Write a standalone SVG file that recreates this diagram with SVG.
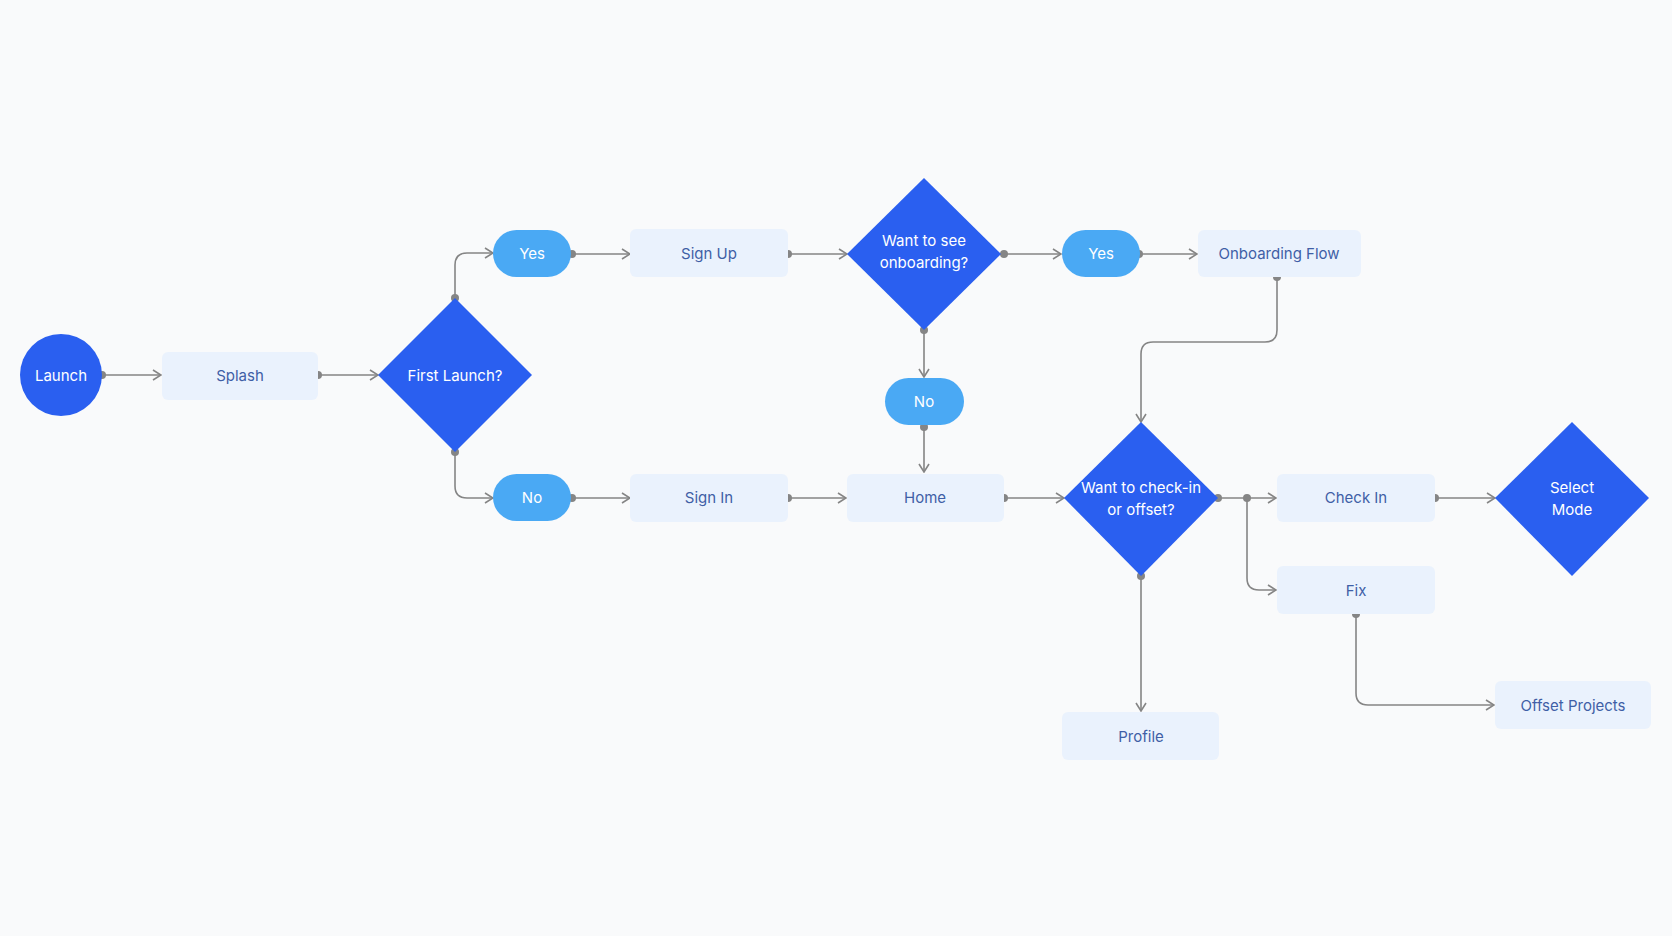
<svg xmlns="http://www.w3.org/2000/svg" width="1672" height="936" viewBox="0 0 1672 936">
<style>
.d{fill:#2a5ff0}.p{fill:#4aa9f4}.r{fill:#eaf2fd}
text{font-family:Inter,"Liberation Sans",sans-serif;font-size:15px;text-anchor:middle;dominant-baseline:central}
.w{fill:#ffffff}.b{fill:#3f5fa6}
.c path{fill:none;stroke:#858585;stroke-width:1.6;marker-end:url(#a)}
.c circle{fill:#858585}
</style>
<defs><marker id="a" viewBox="0 0 10 12" refX="9" refY="6" markerWidth="10" markerHeight="12" markerUnits="userSpaceOnUse" orient="auto"><path d="M1 1L9 6L1 11" fill="none" stroke="#858585" stroke-width="1.6"/></marker></defs>
<rect width="1672" height="936" fill="#f9fafb"/>
<g class="c">
<path d="M102 375H161"/><path d="M318 375H378"/>
<path d="M455 298V265Q455 253 467 253H493"/>
<path d="M455 452V486Q455 498 467 498H493"/>
<path d="M572 254H630"/><path d="M788 254H847"/><path d="M1004 254H1061"/><path d="M1139 254H1197"/>
<path d="M1277 277V330Q1277 342 1265 342H1153Q1141 342 1141 354V422"/>
<path d="M924 330V377"/><path d="M924 427V472"/>
<path d="M572 498H630"/><path d="M788 498H846"/><path d="M1004 498H1064"/>
<path d="M1218 498H1276"/><path d="M1247 498V578Q1247 590 1259 590H1276"/>
<path d="M1435 498H1495"/><path d="M1141 576V711"/>
<path d="M1356 614V693Q1356 705 1368 705H1494"/>
<circle cx="102" cy="375" r="4"/><circle cx="318" cy="375" r="4"/><circle cx="455" cy="298" r="4"/><circle cx="455" cy="452" r="4"/>
<circle cx="572" cy="254" r="4"/><circle cx="788" cy="254" r="4"/><circle cx="1004" cy="254" r="4"/><circle cx="1139" cy="254" r="4"/>
<circle cx="1277" cy="277" r="4"/><circle cx="924" cy="330" r="4"/><circle cx="924" cy="427" r="4"/>
<circle cx="572" cy="498" r="4"/><circle cx="788" cy="498" r="4"/><circle cx="1004" cy="498" r="4"/>
<circle cx="1218" cy="498" r="4"/><circle cx="1247" cy="498" r="4"/><circle cx="1435" cy="498" r="4"/>
<circle cx="1141" cy="576" r="4"/><circle cx="1356" cy="614" r="4"/>
</g>
<g id="launch"><circle class="d" cx="61" cy="375" r="41"/><text class="w" x="61" y="375">Launch</text></g>
<g id="splash"><rect class="r" x="162" y="352" width="156" height="48" rx="6"/><text class="b" x="240" y="375">Splash</text></g>
<g id="first"><path class="d" d="M455 298L532 375L455 452L378 375Z"/><text class="w" x="455" y="375">First Launch?</text></g>
<g id="yes1"><rect class="p" x="493" y="230" width="78" height="47" rx="23.5"/><text class="w" x="532" y="253">Yes</text></g>
<g id="no1"><rect class="p" x="493" y="474" width="78" height="47" rx="23.5"/><text class="w" x="532" y="497">No</text></g>
<g id="signup"><rect class="r" x="630" y="229" width="158" height="48" rx="6"/><text class="b" x="709" y="253">Sign Up</text></g>
<g id="signin"><rect class="r" x="630" y="474" width="158" height="48" rx="6"/><text class="b" x="709" y="497">Sign In</text></g>
<g id="onb"><path class="d" d="M924 178L1001 254L924 330L847 254Z"/><text class="w" x="924" y="240">Want to see</text><text class="w" x="924" y="262">onboarding?</text></g>
<g id="yes2"><rect class="p" x="1062" y="230" width="78" height="47" rx="23.5"/><text class="w" x="1101" y="253">Yes</text></g>
<g id="flow"><rect class="r" x="1198" y="230" width="163" height="47" rx="6"/><text class="b" x="1279" y="253">Onboarding Flow</text></g>
<g id="no2"><rect class="p" x="885" y="378" width="79" height="47" rx="23.5"/><text class="w" x="924" y="401">No</text></g>
<g id="home"><rect class="r" x="847" y="474" width="157" height="48" rx="6"/><text class="b" x="925" y="497">Home</text></g>
<g id="check"><path class="d" d="M1141 422L1218 498L1141 576L1064 498Z"/><text class="w" x="1141" y="487">Want to check-in</text><text class="w" x="1141" y="509">or offset?</text></g>
<g id="checkin"><rect class="r" x="1277" y="474" width="158" height="48" rx="6"/><text class="b" x="1356" y="497">Check In</text></g>
<g id="mode"><path class="d" d="M1572 422L1649 498L1572 576L1495 498Z"/><text class="w" x="1572" y="487">Select</text><text class="w" x="1572" y="509">Mode</text></g>
<g id="fix"><rect class="r" x="1277" y="566" width="158" height="48" rx="6"/><text class="b" x="1356" y="590">Fix</text></g>
<g id="offset"><rect class="r" x="1495" y="681" width="156" height="48" rx="6"/><text class="b" x="1573" y="705">Offset Projects</text></g>
<g id="profile"><rect class="r" x="1062" y="712" width="157" height="48" rx="6"/><text class="b" x="1141" y="736">Profile</text></g>
</svg>
